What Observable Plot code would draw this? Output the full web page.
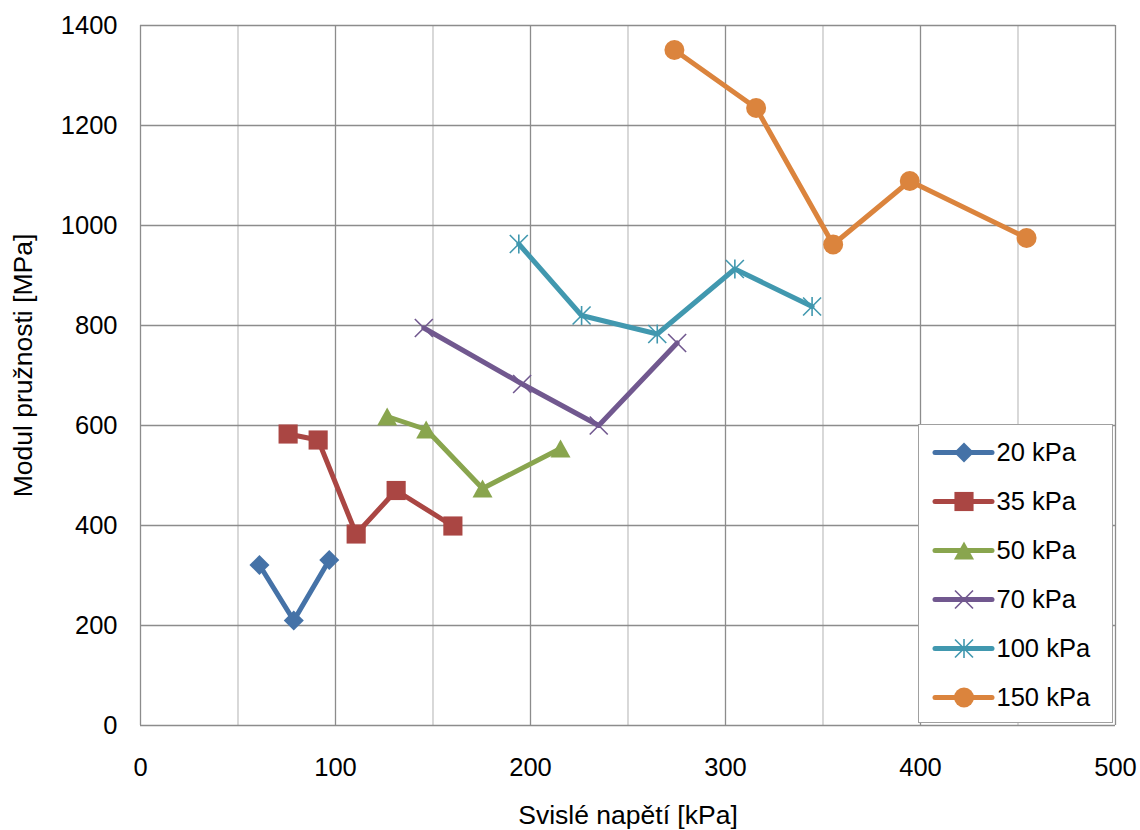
<!DOCTYPE html>
<html>
<head>
<meta charset="utf-8">
<script src="https://cdn.jsdelivr.net/npm/d3@7"></script>
<script src="https://cdn.jsdelivr.net/npm/@observablehq/plot@0.6"></script>
<style>
  body { margin: 0; background: #fff; }
  #wrap { position: relative; width: 1140px; height: 830px; font-family: "Liberation Sans", Arial, sans-serif; }
  #legend { position: absolute; left: 918px; top: 424px; width: 195px; height: 299px; background: #fff; border: 1px solid #a0a0a0; box-sizing: border-box; }
  #legend svg { display: block; }
</style>
</head>
<body>
<div id="wrap"><div id="legend"></div></div>
<script>
// ---- data ----
const series = ["20 kPa", "35 kPa", "50 kPa", "70 kPa", "100 kPa", "150 kPa"];
const colors = ["#4572A7", "#AA4643", "#89A54E", "#71588F", "#4198AF", "#DB843D"];

const x20 = [61, 78.6, 96.8];
const y20 = [321, 210, 331];
const x35 = [75.7, 91.1, 110.6, 131.1, 160.2];
const y35 = [583, 571, 383, 470, 399];
const x50 = [126.5, 146.5, 175.4, 215.4];
const y50 = [618, 592, 474, 554];
const x70 = [145.3, 195.7, 235, 275.2];
const y70 = [795, 683, 600, 765];
const x100 = [194, 226.2, 265, 304.8, 344.4];
const y100 = [963, 820, 783, 913, 838];
const x150 = [273.8, 315.7, 355.2, 394.5, 454.4];
const y150 = [1351, 1235, 962, 1089, 975];

const xTicks = [0, 100, 200, 300, 400, 500];
const xMinorGrid = [50, 150, 250, 350, 450];
const yTicks = [0, 200, 400, 600, 800, 1000, 1200, 1400];
const xLabel = "Svislé napětí [kPa]";
const yLabel = "Modul pružnosti [MPa]";

// ---- build table ----
const seriesXY = [[x20, y20], [x35, y35], [x50, y50], [x70, y70], [x100, y100], [x150, y150]];
const rows = [];
series.forEach((s, i) => {
  const [xs, ys] = seriesXY[i];
  xs.forEach((x, j) => rows.push({series: s, x, y: ys[j]}));
});

// custom symbols
const timesSym = {draw(ctx, size) {
  const r = Math.sqrt(size / Math.PI);
  ctx.moveTo(-r, -r); ctx.lineTo(r, r);
  ctx.moveTo(-r, r); ctx.lineTo(r, -r);
}};
const starSym = {draw(ctx, size) {
  const r = Math.sqrt(size / Math.PI);
  ctx.moveTo(-r, -r); ctx.lineTo(r, r);
  ctx.moveTo(-r, r); ctx.lineTo(r, -r);
  ctx.moveTo(0, -r * 1.05); ctx.lineTo(0, r * 1.05);
}};
const triSym = {draw(ctx, size) {
  const r = Math.sqrt(size / Math.PI);
  ctx.moveTo(0, -0.9 * r); ctx.lineTo(r, 0.9 * r); ctx.lineTo(-r, 0.9 * r); ctx.closePath();
}};

const markerOpts = {
  "20 kPa": {symbol: "square", r: 8, rotate: 45, filled: true},
  "35 kPa": {symbol: "square", r: 10.8, rotate: 0, filled: true},
  "50 kPa": {symbol: triSym, r: 10, rotate: 0, filled: true},
  "70 kPa": {symbol: timesSym, r: 9, rotate: 0, filled: false},
  "100 kPa": {symbol: starSym, r: 9, rotate: 0, filled: false},
  "150 kPa": {symbol: "circle", r: 10, rotate: 0, filled: true}
};
const colorOf = s => colors[series.indexOf(s)];

function dotMark(data, s, xAcc, yAcc) {
  const m = markerOpts[s];
  const base = {x: xAcc, y: yAcc, symbol: m.symbol, r: m.r, rotate: m.rotate};
  if (m.filled) return Plot.dot(data, {...base, fill: colorOf(s), stroke: "none"});
  return Plot.dot(data, {...base, fill: "none", stroke: colorOf(s), strokeWidth: 1.6});
}

const font = "'Liberation Sans', Arial, sans-serif";
const gridDark = "#8c8c8c";
const gridLight = "#c4c4c4";

const chart = Plot.plot({
  width: 1140,
  height: 830,
  marginLeft: 140,
  marginRight: 25,
  marginTop: 25,
  marginBottom: 105,
  style: {fontFamily: font, fontSize: "25px", color: "#000", background: "#fff"},
  x: {domain: [0, 500]},
  y: {domain: [0, 1400]},
  marks: [
    Plot.gridX({ticks: xMinorGrid, stroke: gridLight, strokeOpacity: 1, strokeWidth: 1.3}),
    Plot.gridX({ticks: xTicks.slice(1), stroke: gridDark, strokeOpacity: 1, strokeWidth: 1.3}),
    Plot.gridY({ticks: yTicks.slice(1), stroke: gridDark, strokeOpacity: 1, strokeWidth: 1.3}),
    Plot.ruleX([0], {stroke: gridDark, strokeWidth: 1.3}),
    Plot.ruleY([0], {stroke: gridDark, strokeWidth: 1.3}),
    Plot.axisX({ticks: xTicks, tickSize: 0, tickPadding: 32, fontSize: 25.5, label: null, tickFormat: d => String(d)}),
    Plot.axisY({ticks: yTicks, tickSize: 0, tickPadding: 23, fontSize: 25.5, label: null, tickFormat: d => String(d)}),
    ...series.map(s => Plot.line(rows.filter(d => d.series === s), {
      x: "x", y: "y", stroke: colorOf(s), strokeWidth: 5, strokeLinejoin: "round", strokeLinecap: "round"
    })),
    ...series.map(s => dotMark(rows.filter(d => d.series === s), s, "x", "y")),
    Plot.text([xLabel], {frameAnchor: "bottom", textAnchor: "middle", lineAnchor: "middle", dy: 90, fontSize: 26.5, fill: "#000"}),
    Plot.text([yLabel], {frameAnchor: "left", textAnchor: "middle", lineAnchor: "middle", rotate: -90, dx: -117, dy: -10, fontSize: 26.5, fill: "#000"})
  ]
});
document.getElementById("wrap").insertBefore(chart, document.getElementById("legend"));

// ---- legend (drawn with Plot as well) ----
const legend = Plot.plot({
  width: 193,
  height: 297,
  margin: 0,
  style: {fontFamily: font, fontSize: "25px", color: "#000", background: "#fff"},
  x: {domain: [0, 193], range: [0, 193], axis: null},
  y: {type: "point", domain: series, range: [25, 274], padding: 0, axis: null},
  marks: [
    ...series.map(s => Plot.ruleY([s], {y: d => d, x1: 16, x2: 73, stroke: colorOf(s), strokeWidth: 5, strokeLinecap: "round"})),
    ...series.map(s => dotMark([s], s, () => 44.5, d => d)),
    Plot.text(series, {x: () => 77, y: d => d, text: d => d, textAnchor: "start", fontSize: 25.5, fill: "#000"})
  ]
});
document.getElementById("legend").appendChild(legend);
</script>
</body>
</html>
